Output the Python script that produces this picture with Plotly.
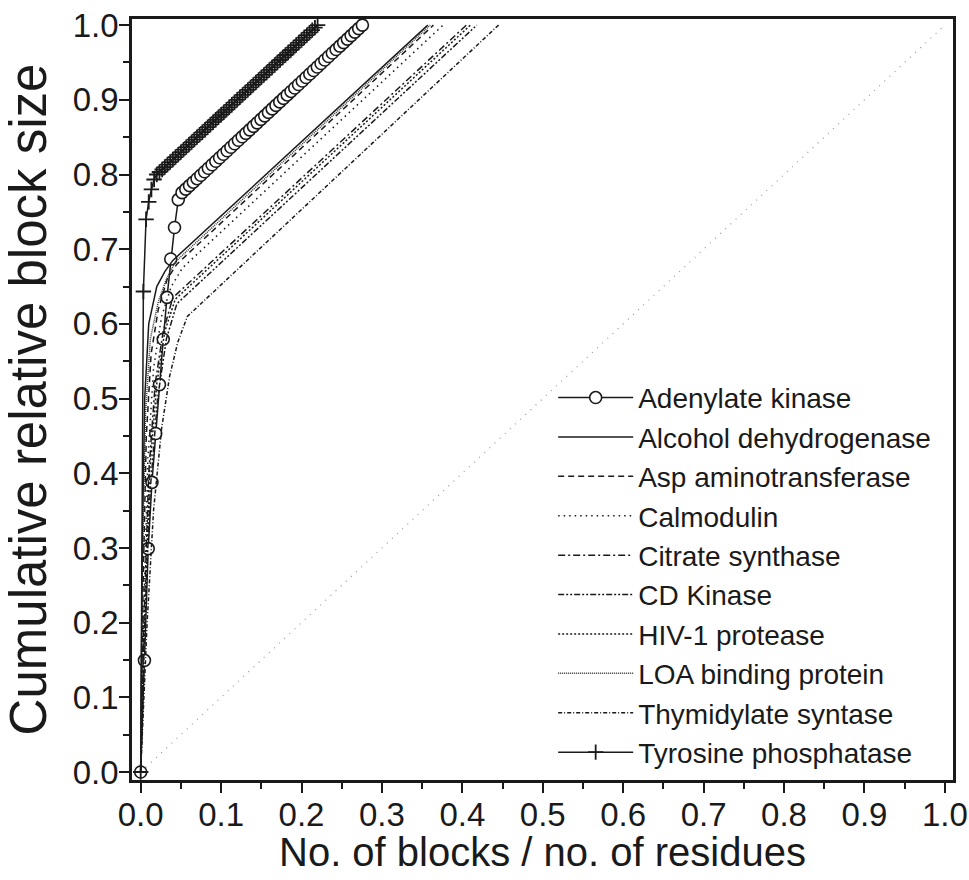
import numpy as np
import plotly.graph_objects as go

# ---------------- data ----------------
# Adenylate kinase: block sizes (residues), largest first
adk_blocks = [32, 32, 19, 14, 14, 13, 12, 11, 9, 8, 2]
adk_single_blocks = 48          # number of 1-residue blocks in the tail
# Tyrosine phosphatase: block sizes (residues), largest first
tyr_blocks = [193, 29, 7, 5, 4, 2]
tyr_single_blocks = 60

adh_x = [0, 0.002, 0.005, 0.010, 0.020, 0.030, 0.040, 0.357]
adh_y = [0, 0.30, 0.50, 0.60, 0.65, 0.670, 0.685, 1.0]
asp_x = [0, 0.003, 0.007, 0.013, 0.022, 0.033, 0.045, 0.364]
asp_y = [0, 0.25, 0.45, 0.56, 0.62, 0.66, 0.680, 1.0]
cal_x = [0, 0.004, 0.009, 0.016, 0.026, 0.038, 0.052, 0.376]
cal_y = [0, 0.22, 0.42, 0.54, 0.61, 0.65, 0.675, 1.0]
cit_x = [0, 0.004, 0.010, 0.018, 0.028, 0.040, 0.405]
cit_y = [0, 0.20, 0.40, 0.52, 0.59, 0.635, 1.0]
cdk_x = [0, 0.005, 0.012, 0.021, 0.032, 0.045, 0.418]
cdk_y = [0, 0.20, 0.38, 0.50, 0.58, 0.627, 1.0]
hiv_x = [0, 0.005, 0.011, 0.020, 0.030, 0.043, 0.410]
hiv_y = [0, 0.20, 0.40, 0.52, 0.59, 0.633, 1.0]
loa_x = [0, 0.002, 0.006, 0.012, 0.022, 0.032, 0.043, 0.360]
loa_y = [0, 0.28, 0.48, 0.58, 0.63, 0.660, 0.683, 1.0]
thy_x = [0, 0.008, 0.016, 0.026, 0.036, 0.046, 0.058, 0.445]
thy_y = [0, 0.20, 0.35, 0.46, 0.53, 0.575, 0.610, 1.0]
diag = [0, 1]

x_ticks = [0.0, 0.1, 0.2, 0.3, 0.4, 0.5, 0.6, 0.7, 0.8, 0.9, 1.0]
y_ticks = [0.0, 0.1, 0.2, 0.3, 0.4, 0.5, 0.6, 0.7, 0.8, 0.9, 1.0]
x_title = "No. of blocks / no. of residues"
y_title = "Cumulative relative block size"


def cumulative(blocks, n_single):
    sizes = np.array(blocks + [1] * n_single, dtype=float)
    n = sizes.sum()
    x = np.concatenate([[0], np.arange(1, len(sizes) + 1) / n])
    y = np.concatenate([[0], np.cumsum(sizes) / n])
    return x, y


adk_x, adk_y = cumulative(adk_blocks, adk_single_blocks)
tyr_x, tyr_y = cumulative(tyr_blocks, tyr_single_blocks)

INK = "#1a1a1a"
fig = go.Figure()

fig.add_trace(go.Scatter(x=diag, y=diag, mode="lines", showlegend=False,
                         line=dict(color="#9a9a9a", width=1.2, dash="1px,6px")))

LW = 1.5
series = [
    ("Alcohol dehydrogenase", adh_x, adh_y, "solid", INK),
    ("Asp aminotransferase", asp_x, asp_y, "6px,4px", INK),
    ("Calmodulin", cal_x, cal_y, "1.5px,4px", INK),
    ("Citrate synthase", cit_x, cit_y, "7px,3px,2px,3px", INK),
    ("CD Kinase", cdk_x, cdk_y, "6px,2px,2px,2px,2px,2px", INK),
    ("HIV-1 protease", hiv_x, hiv_y, "2px,2px", INK),
    ("LOA binding protein", loa_x, loa_y, "1px,1px", "#333333"),
    ("Thymidylate syntase", thy_x, thy_y, "4px,2px,1px,2px", INK),
]

fig.add_trace(go.Scatter(
    x=adk_x, y=adk_y, mode="lines+markers", name="Adenylate kinase",
    legendgroup="g0", legendrank=1,
    line=dict(color=INK, width=LW),
    marker=dict(symbol="circle", size=12, color="white",
                line=dict(color=INK, width=1.6))))

for i, (name, xs, ys, dash, col) in enumerate(series):
    fig.add_trace(go.Scatter(
        x=xs, y=ys, mode="lines", name=name, legendgroup=f"g{i+1}",
        legendrank=i + 2,
        line=dict(color=col, width=LW, dash=dash)))

fig.add_trace(go.Scatter(
    x=tyr_x, y=tyr_y, mode="lines+markers", name="Tyrosine phosphatase",
    legendgroup="g9", legendrank=10,
    line=dict(color=INK, width=LW),
    marker=dict(symbol="cross-thin", size=11, color=INK,
                line=dict(color=INK, width=1.8))))

SANS = "Liberation Sans, Arial, sans-serif"

axis_common = dict(
    showline=True, linewidth=2.5, linecolor=INK, mirror=True,
    ticks="outside", ticklen=10, tickwidth=2, tickcolor=INK,
    showgrid=False, zeroline=False, tickformat=".1f",
    tickfont=dict(family=SANS, size=33, color=INK),
    ticklabeloverflow="allow", ticklabelstandoff=-6,
    minor=dict(ticks="outside", ticklen=6, tickwidth=2, tickcolor=INK,
               dtick=0.05, showgrid=False),
)

fig.update_layout(
    width=969, height=880,
    margin=dict(l=132, r=16, t=19, b=100),
    paper_bgcolor="white", plot_bgcolor="white",
    xaxis=dict(range=[-0.0108, 1.0101], tickvals=x_ticks, automargin=False,
               **axis_common),
    yaxis=dict(range=[-0.0107, 1.0082], tickvals=y_ticks, automargin=False,
               title=dict(text=y_title,
                          font=dict(family=SANS, size=51, color=INK),
                          standoff=19),
               **axis_common),
    legend=dict(x=0.513, y=0.535, xanchor="left", yanchor="top",
                font=dict(family=SANS, size=28, color=INK),
                bgcolor="rgba(0,0,0,0)", tracegroupgap=0,
                itemwidth=75, traceorder="normal"),
    showlegend=True,
)

fig.add_annotation(text=x_title, xref="paper", yref="paper",
                   x=0.5, y=-0.095, xanchor="center", yanchor="middle",
                   showarrow=False,
                   font=dict(family=SANS, size=40, color=INK))

fig.write_html("out.html")
